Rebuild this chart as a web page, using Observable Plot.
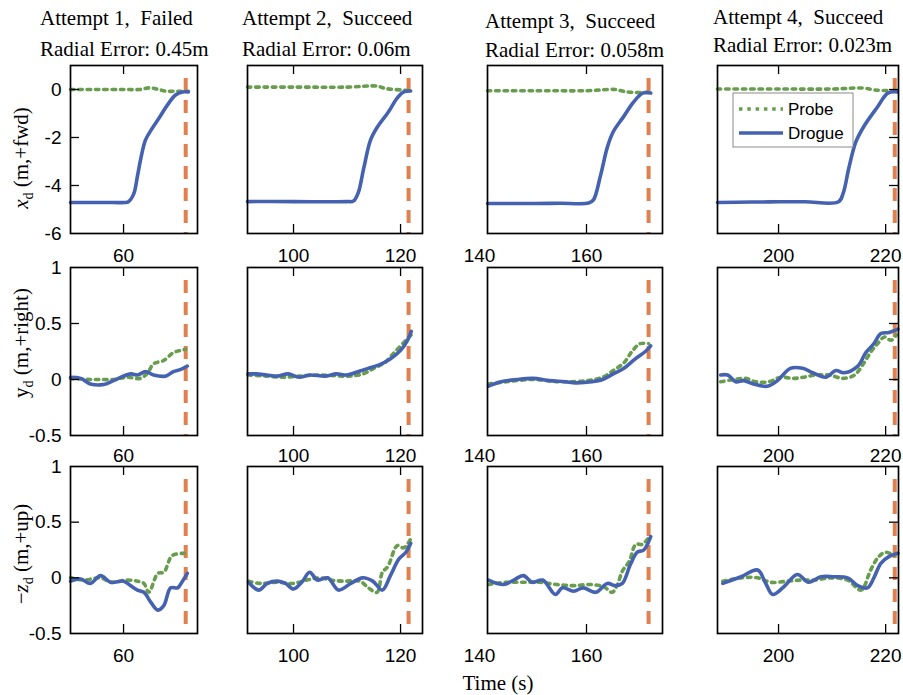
<!DOCTYPE html>
<html>
<head>
<meta charset="utf-8">
<script src="https://cdn.jsdelivr.net/npm/d3@7"></script>
<script src="https://cdn.jsdelivr.net/npm/@observablehq/plot@0.6"></script>
<style>
  body { margin: 0; background: white; }
  #root { position: relative; width: 903px; height: 695px; overflow: hidden; background: white; }
  #root svg.plotsvg { position: absolute; }
  #overlay { position: absolute; left: 0; top: 0; pointer-events: none; }
</style>
</head>
<body>
<div id="root"></div>
<script>
// ---------------- DATA ----------------
const attemptTitles = ["Attempt 1,  Failed", "Attempt 2,  Succeed", "Attempt 3,  Succeed", "Attempt 4,  Succeed"];
const radialErrors = ["Radial Error: 0.45m", "Radial Error: 0.06m", "Radial Error: 0.058m", "Radial Error: 0.023m"];
const xDomains = [[50.1, 73.8], [91.4, 124.1], [141.5, 174.2], [188.6, 222.4]];
const xTicks = [[60], [100, 120], [140, 160], [200, 220]];
const contactTimes = [71.6, 121.5, 171.6, 221.7];
const yDomains = [[-6, 1], [-0.5, 1], [-0.5, 1]];
const yTicks = [[0, -2, -4, -6], [1, 0.5, 0, -0.5], [1, 0.5, 0, -0.5]];
const seriesNames = ["Probe", "Drogue"];

// x_d (forward)
const drogueX1 = [[50.1,-4.71],[54,-4.71],[58,-4.71],[60.3,-4.71],[60.9,-4.68],[61.9,-4.35],[62.6,-3.6],[63.2,-2.9],[64.1,-2.1],[65.4,-1.6],[66.6,-1.2],[68.2,-0.64],[69.7,-0.23],[71,-0.1],[72.1,-0.1]];
const probeX1 = [[50.1,0],[55,0],[60,0],[63,0],[65,0.07],[66.5,0],[68,-0.07],[70,-0.07],[72.1,-0.07]];
const drogueX2 = [[91.4,-4.67],[100,-4.67],[105,-4.68],[110,-4.67],[111.2,-4.65],[112.1,-4.3],[113.1,-3.3],[114.4,-2.1],[115.7,-1.55],[117.6,-0.98],[119.4,-0.35],[120.6,-0.1],[121.9,-0.06]];
const probeX2 = [[91.4,0.1],[100,0.1],[110,0.1],[115.7,0.14],[117,0.05],[119,0],[121.9,-0.05]];
const drogueX3 = [[141.5,-4.75],[150,-4.75],[155,-4.74],[160.4,-4.73],[161.3,-4.6],[162.6,-3.6],[163.9,-2.4],[165,-1.76],[166.9,-1.14],[168.8,-0.52],[170.5,-0.15],[172,-0.15]];
const probeX3 = [[141.5,-0.05],[150,-0.05],[160,-0.05],[165.4,0],[167,-0.08],[169,-0.12],[171.6,-0.12]];
const drogueX4 = [[188.6,-4.71],[195,-4.69],[200,-4.68],[205,-4.68],[211.2,-4.68],[212.1,-4.3],[213.1,-3.3],[214.4,-2.2],[215.9,-1.55],[218.5,-0.72],[220.4,-0.15],[222.2,-0.1]];
const probeX4 = [[188.6,0.02],[200,0.02],[210,0.02],[215.7,0.06],[218,-0.02],[222.2,-0.06]];

// y_d (right)
const drogueY1 = [[50.1,0.02],[52,0.01],[53.8,-0.04],[56.3,-0.045],[58.1,-0.01],[61.3,0.05],[62.6,0.04],[64.1,0.07],[65.6,0.04],[67.8,0.03],[69.3,0.07],[70.7,0.09],[71.9,0.12]];
const probeY1 = [[50.1,0.01],[53.8,0],[55.7,0],[58.1,0],[60.6,0.02],[63.1,0.01],[64.5,0.06],[65.6,0.14],[67.5,0.17],[69.3,0.24],[70.7,0.26],[71.6,0.27]];
const drogueY2 = [[91.5,0.05],[93,0.05],[95,0.04],[97,0.03],[99,0.05],[101,0.02],[103,0.04],[106,0.03],[108,0.05],[110,0.04],[112,0.07],[114,0.1],[116,0.13],[118,0.18],[120,0.26],[121.3,0.35],[122,0.43]];
const probeY2 = [[91.5,0.04],[95,0.03],[98,0.02],[101,0.03],[105,0.04],[110,0.03],[113,0.05],[115,0.1],[117,0.15],[119,0.25],[121,0.35],[122,0.4]];
const drogueY3 = [[141.7,-0.06],[144,-0.02],[147,0],[150,0.01],[153,-0.01],[156,-0.02],[158,-0.03],[161,-0.02],[163,0],[165,0.05],[167,0.1],[169,0.18],[171,0.25],[172,0.3]];
const probeY3 = [[141.7,-0.04],[145,-0.02],[150,0],[155,-0.02],[160,-0.01],[163,0.02],[165,0.08],[167,0.15],[168.5,0.25],[170,0.32],[171.6,0.32]];
const drogueY4 = [[189.2,0.04],[190.5,0.04],[192,-0.02],[193.5,-0.01],[195.3,-0.04],[197.9,-0.06],[199.8,-0.01],[202.2,0.1],[204.5,0.1],[206.4,0.06],[208.8,0.02],[210.7,0.08],[212.2,0.06],[214.8,0.12],[216.3,0.24],[217.8,0.32],[219.1,0.41],[220.6,0.42],[222.3,0.45]];
const probeY4 = [[189.2,-0.02],[191.7,0],[193.8,0.01],[195.7,-0.02],[198.2,-0.02],[200.4,0.02],[202.7,0.01],[204.6,0.02],[207,0.04],[209.5,0.04],[212,0.01],[214.2,0.04],[215.7,0.13],[217.3,0.25],[218.5,0.32],[219.8,0.38],[221,0.35],[222,0.4]];

// -z_d (up)
const drogueZ1 = [[50.1,-0.03],[52,-0.01],[53.8,-0.05],[55.7,0.02],[57.6,-0.04],[60,-0.03],[61.3,-0.07],[62.6,-0.11],[63.8,-0.13],[65.1,-0.22],[66.4,-0.29],[67.5,-0.25],[68.8,-0.09],[70.1,-0.09],[71,-0.03],[71.9,0.04]];
const probeZ1 = [[50.1,0],[52.6,-0.02],[55.7,0],[57.6,-0.04],[60.6,-0.02],[62.6,-0.03],[63.8,-0.05],[64.7,-0.13],[66.4,0.04],[67.5,0.05],[69.1,0.2],[71.3,0.22]];
const drogueZ2 = [[91.6,-0.04],[93.5,-0.11],[95.1,-0.05],[97,-0.03],[98.5,-0.05],[100,-0.1],[101.7,-0.03],[103,0.05],[104.5,-0.02],[106.4,0],[108.4,-0.11],[110.7,-0.05],[112.9,0],[114.8,-0.03],[116.6,-0.11],[118.1,0.02],[119.7,0.17],[121,0.23],[121.9,0.31]];
const probeZ2 = [[91.6,-0.03],[93.7,-0.05],[97,-0.04],[100,-0.05],[102.5,-0.02],[105,0],[106.9,-0.02],[109.3,-0.03],[112.4,-0.03],[114,-0.09],[115.6,-0.13],[116.6,0.05],[117.6,0.1],[119.4,0.29],[120.6,0.27],[121.9,0.35]];
const drogueZ3 = [[141.7,-0.02],[144.5,-0.06],[146.4,-0.02],[148.2,0.02],[149.9,-0.04],[151.8,-0.02],[154.2,-0.15],[155.5,-0.09],[157.6,-0.12],[159.4,-0.09],[161.7,-0.13],[163.9,-0.05],[165.4,-0.07],[166.7,-0.05],[168.2,0.12],[169.5,0.23],[170.7,0.25],[172,0.37]];
const probeZ3 = [[141.7,-0.06],[145,-0.04],[148.2,-0.04],[151.3,-0.04],[154.4,-0.06],[157.6,-0.07],[160.7,-0.06],[163.2,-0.08],[164.8,-0.13],[165.7,-0.07],[166.7,0.06],[168,0.15],[169.2,0.3],[170.4,0.3],[171.6,0.36]];
const drogueZ4 = [[189.6,-0.05],[193,0.01],[196.1,0.07],[197.6,-0.05],[198.9,-0.15],[201,-0.08],[203.5,0.03],[205.6,-0.04],[207.9,0.01],[210.3,0.01],[212.9,0],[214.8,-0.07],[216.6,-0.09],[217.8,0],[219.1,0.13],[220.6,0.19],[222.3,0.22]];
const probeZ4 = [[189.6,-0.03],[193,0],[196.1,0],[198.6,-0.04],[201.7,-0.03],[204.2,-0.02],[206.7,-0.02],[209.8,0],[212.9,-0.02],[215.4,-0.11],[217.2,0.07],[218.7,0.19],[220,0.23],[221.6,0.2]];

const drogueSeries = [[drogueX1, drogueX2, drogueX3, drogueX4], [drogueY1, drogueY2, drogueY3, drogueY4], [drogueZ1, drogueZ2, drogueZ3, drogueZ4]];
const probeSeries = [[probeX1, probeX2, probeX3, probeX4], [probeY1, probeY2, probeY3, probeY4], [probeZ1, probeZ2, probeZ3, probeZ4]];

// ---------------- LAYOUT / STYLE ----------------
const colPx = [[70, 197], [247, 422], [487, 662], [717, 898]];
const rowPx = [[65, 233], [267, 435], [466, 633]];
const BLUE = "#4562b0", GREEN = "#679d4d", ORANGE = "#e0804f";
const probeDash = "3.5,4.8";
const SANS = "'Liberation Sans', Arial, sans-serif";
const SERIF = "'Liberation Serif', 'Times New Roman', serif";

const root = document.getElementById("root");

for (let r = 0; r < 3; r++) {
  for (let c = 0; c < 4; c++) {
    const [x0, x1] = colPx[c], [y0, y1] = rowPx[r];
    const W = x1 - x0, H = y1 - y0;
    const ml = 70, mr = 10, mt = 10, mb = 40;
    const dom = xDomains[c];
    const inTicks = xTicks[c].filter(t => t > dom[0] && t < dom[1]);
    const innerY = yTicks[r].filter(t => t > yDomains[r][0] && t < yDomains[r][1]);
    const marks = [
      Plot.ruleX([contactTimes[c]], {x: d => d, stroke: ORANGE, strokeWidth: 4, strokeDasharray: "13,9", insetTop: 13}),
      Plot.line(probeSeries[r][c], {x: d => d[0], y: d => d[1], stroke: GREEN, strokeWidth: 3.6, strokeDasharray: probeDash, curve: "catmull-rom"}),
      Plot.line(drogueSeries[r][c], {x: d => d[0], y: d => d[1], stroke: BLUE, strokeWidth: 3.6, curve: "catmull-rom"}),
      Plot.frame({stroke: "black", strokeWidth: 1.7}),
      Plot.ruleX(inTicks, {x: d => d, stroke: "black", strokeWidth: 1.3, insetTop: H - 9}),
      Plot.ruleX(inTicks, {x: d => d, stroke: "black", strokeWidth: 1.3, insetBottom: H - 9}),
      Plot.axisX(xTicks[c], {anchor: "bottom", tickSize: 0, tickPadding: r === 1 ? 13 : 15, tickFormat: d => String(d), label: null, fontSize: 19})
    ];
    if (c === 0) {
      marks.push(Plot.ruleY(innerY, {y: d => d, stroke: "black", strokeWidth: 1.3, insetRight: W - 9}));
      marks.push(Plot.axisY(yTicks[r], {anchor: "left", tickSize: 0, tickPadding: 9, tickFormat: d => String(d), label: null, fontSize: 19}));
    }
    if (c === 3) {
      marks.push(Plot.ruleY(innerY, {y: d => d, stroke: "black", strokeWidth: 1.3, insetLeft: W - 9}));
    }
    const svg = Plot.plot({
      width: W + ml + mr, height: H + mt + mb,
      marginLeft: ml, marginRight: mr, marginTop: mt, marginBottom: mb,
      x: {domain: dom, axis: null},
      y: {domain: yDomains[r], axis: null},
      style: {background: "transparent", overflow: "visible", fontFamily: SANS, fontSize: "19px", color: "black"},
      marks
    });
    svg.classList.add("plotsvg");
    svg.style.position = "absolute";
    svg.style.left = (x0 - ml) + "px";
    svg.style.top = (y0 - mt) + "px";
    root.appendChild(svg);
  }
}

// ---------------- TEXT OVERLAY (titles, axis labels, legend) ----------------
const NS = "http://www.w3.org/2000/svg";
const ov = document.createElementNS(NS, "svg");
ov.setAttribute("id", "overlay");
ov.setAttribute("width", 903);
ov.setAttribute("height", 695);
root.appendChild(ov);

function addText(x, y, str, opts = {}) {
  const t = document.createElementNS(NS, "text");
  t.setAttribute("x", x); t.setAttribute("y", y);
  t.setAttribute("font-family", opts.family || SERIF);
  t.setAttribute("font-size", opts.size || 21);
  t.setAttribute("fill", "black");
  t.setAttribute("style", "white-space:pre");
  if (opts.anchor) t.setAttribute("text-anchor", opts.anchor);
  if (opts.baseline) t.setAttribute("dominant-baseline", opts.baseline);
  t.textContent = str;
  ov.appendChild(t);
  return t;
}

const titleX = [40, 242, 485, 713];
const titleY1 = [25, 25, 28, 24];
const titleY2 = [56, 56, 57, 52];
for (let c = 0; c < 4; c++) {
  addText(titleX[c], titleY1[c], attemptTitles[c]);
  addText(titleX[c], titleY2[c], radialErrors[c]);
}

// y-axis labels with subscripts
const yLabels = [
  {pre: "", sym: "x", italic: true, post: " (m,+fwd)", cy: 158},
  {pre: "", sym: "y", italic: false, post: " (m,+right)", cy: 343},
  {pre: "\u2212", sym: "z", italic: true, post: " (m,+up)", cy: 554}
];
for (const L of yLabels) {
  const t = document.createElementNS(NS, "text");
  t.setAttribute("transform", `translate(28,${L.cy}) rotate(-90)`);
  t.setAttribute("text-anchor", "middle");
  t.setAttribute("font-family", SERIF);
  t.setAttribute("font-size", 21);
  if (L.pre) { const s = document.createElementNS(NS, "tspan"); s.textContent = L.pre; t.appendChild(s); }
  const s1 = document.createElementNS(NS, "tspan"); s1.textContent = L.sym; if (L.italic) s1.setAttribute("font-style", "italic"); t.appendChild(s1);
  const s2 = document.createElementNS(NS, "tspan"); s2.textContent = "d"; s2.setAttribute("font-size", 14); s2.setAttribute("dy", 5); t.appendChild(s2);
  const s3 = document.createElementNS(NS, "tspan"); s3.textContent = L.post; s3.setAttribute("dy", -5); s3.setAttribute("style", "white-space:pre"); t.appendChild(s3);
  ov.appendChild(t);
}

addText(498, 690, "Time (s)", {anchor: "middle"});

// legend (inside attempt 4, x panel)
const lg = document.createElementNS(NS, "g");
ov.appendChild(lg);
const box = document.createElementNS(NS, "rect");
box.setAttribute("x", 733); box.setAttribute("y", 93); box.setAttribute("width", 120); box.setAttribute("height", 54);
box.setAttribute("fill", "white"); box.setAttribute("stroke", "#8a8a8a"); box.setAttribute("stroke-width", 1);
lg.appendChild(box);
const legendStyles = [{stroke: GREEN, dash: probeDash}, {stroke: BLUE, dash: null}];
seriesNames.forEach((name, i) => {
  const y = 109 + i * 24;
  const ln = document.createElementNS(NS, "line");
  ln.setAttribute("x1", 739); ln.setAttribute("x2", 783); ln.setAttribute("y1", y); ln.setAttribute("y2", y);
  ln.setAttribute("stroke", legendStyles[i].stroke); ln.setAttribute("stroke-width", 3.6);
  if (legendStyles[i].dash) ln.setAttribute("stroke-dasharray", legendStyles[i].dash);
  lg.appendChild(ln);
  const tx = addText(788, y, name, {family: SANS, size: 17, baseline: "central"});
  lg.appendChild(tx);
});
</script>
</body>
</html>
